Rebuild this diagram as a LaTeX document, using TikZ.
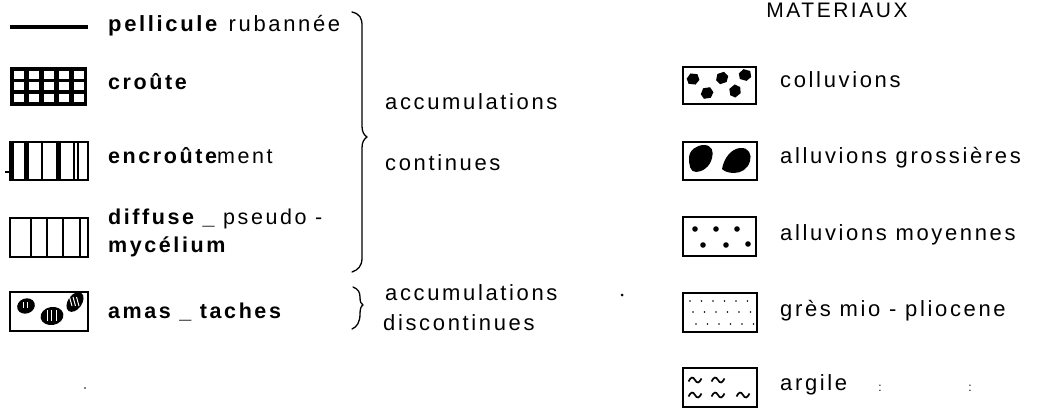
\documentclass[tikz,border=0pt]{standalone}
\usepackage{fontspec}
\setmainfont{Liberation Sans}
\newfontfamily\labfont[LetterSpace=12]{Liberation Sans}
\begin{document}
\begin{tikzpicture}[x=1pt,y=-1pt,
  lbl/.style={anchor=base west, inner sep=0pt, font=\labfont\fontsize{22}{26}\selectfont},
  blbl/.style={lbl, font=\labfont\bfseries\fontsize{21.5}{26}\selectfont},
  symbox/.style={draw, line width=1.3pt},
  brace/.style={line width=1.3pt, line cap=round, line join=round}]
\useasboundingbox (0,0) rectangle (1049,409);

% ---------- left column ----------
% pellicule
\draw[line width=4pt] (10,27) -- (88,27);
\node[lbl] (t1) at (108,32) {\textbf{pellicule} rubannée};

% croute
\fill (10,67) rectangle (87,106);
\foreach \i in {0,...,4}{
  \foreach \j in {0,...,2}{
    \fill[white] ({13.5+\i*15},{71+\j*11.5}) rectangle ({24+\i*15},{79+\j*11.5});
  }
}
\node[blbl] (t2) at (108,90) {croûte};

% encroutement
\draw[symbox] (10,142) rectangle (88,180);
\fill (10,142) rectangle (14,180);
\fill (24,142) rectangle (29,180);
\draw[line width=1.2pt] (42,142) -- (42,180);
\fill (56,142) rectangle (61,180);
\draw[line width=1.2pt] (74,142) -- (74,180);
\fill (77,142) rectangle (79,180);
\draw[line width=1.5pt] (5,172) -- (10,172);
\node[blbl] (t3) at (108,164) {encroûte\mdseries ment};

% diffuse
\draw[symbox] (10,218) rectangle (88,257);
\foreach \x in {31,47,63,80}{ \draw[line width=1.2pt] (\x,218) -- (\x,257); }
\node[blbl] (t4) at (108,224) {diffuse \_ \mdseries pseudo -};
\node[blbl] (t5) at (108,252) {mycélium};

% amas
\draw[symbox] (10,292) rectangle (88,331);
\fill[rotate around={20:(26,306)}] (26,306) ellipse (9 and 7.5);
\fill[rotate around={10:(52,316)}] (52,316) ellipse (11.5 and 9);
\fill[rotate around={55:(75,302)}] (75,302) ellipse (11 and 7);
\foreach \x in {23,27}{ \draw[white, line width=1pt] (\x,302) -- (\x,308); }
\foreach \x in {47,51.5,56}{ \draw[white, line width=1pt] (\x,310) -- (\x,321); }
\foreach \d in {-3.5,0,3.5}{ \draw[white, line width=1pt] ({73+\d},297) -- ({75.5+\d},306); }
\node[blbl] (t6) at (108,318) {amas \_ taches};

% big brace
\draw[brace] (352,12) .. controls (360,14) and (362,18) .. (362,26)
  -- (362,126) .. controls (362,132) and (364,135) .. (367,137)
  .. controls (364,139) and (362,142) .. (362,148)
  -- (362,258) .. controls (362,266) and (358,270) .. (352,272);
\node[lbl] (t7) at (385,110) {accumulations};
\node[lbl] (t8) at (385,170) {continues};

% small brace
\draw[brace] (353,287) .. controls (358,289) and (360,292) .. (360,297)
  .. controls (360,302) and (361,304) .. (363,305)
  .. controls (361,306) and (360,309) .. (360,314)
  .. controls (360,322) and (357,327) .. (352,329);
\node[lbl] (t9) at (385,300) {accumulations};
\node[lbl] (t10) at (383,330) {discontinues};

\fill (622,295) circle (1.5);
\fill (85,388) circle (0.8);

% ---------- right column ----------
\node[anchor=base, inner sep=0pt, font=\labfont\fontsize{21}{25}\selectfont] (title) at (837,18) {MATERIAUX};

% colluvions
\draw[symbox] (683,67) rectangle (756,104);
\foreach \x/\y/\r in {693/79/15, 722/78/40, 745/75/5, 707/93/30, 735/91/60}{
  \fill[rotate around={\r:(\x,\y)}] (\x-6,\y-2) -- (\x-1,\y-6) -- (\x+5.5,\y-3.5) -- (\x+6,\y+2.5) -- (\x+1,\y+6) -- (\x-5.5,\y+3.5) -- cycle;
}
\node[lbl] (r1) at (780,88) {colluvions};

% alluvions grossieres
\draw[symbox] (683,142) rectangle (757,180);
\fill (689,158) .. controls (689,150) and (697,145) .. (704,145)
  .. controls (712,145) and (714,152) .. (712,158)
  .. controls (710,167) and (702,172) .. (696,172)
  .. controls (690,172) and (689,165) .. (689,158) -- cycle;
\fill (722,169) .. controls (724,158) and (731,149) .. (740,148)
  .. controls (749,147) and (752,155) .. (750,161)
  .. controls (748,169) and (741,173) .. (734,173)
  .. controls (728,173) and (724,171) .. (722,169) -- cycle;
\node[lbl] (r2) at (780,164) {alluvions grossières};

% alluvions moyennes
\draw[symbox] (683,217) rectangle (756,256);
\foreach \x/\y in {695/229, 716/229, 737/229, 703/245, 726/245, 748/244}{
  \fill (\x,\y) circle (2.8);
}
\node[lbl] (r3) at (780,240) {alluvions moyennes};

% gres
\draw[symbox] (683,293) rectangle (757,332);
\foreach \j/\y in {0/301, 1/312, 2/324}{
  \foreach \i in {0,...,5}{
    \fill ({690+\i*11.5+\j*3},\y) circle (0.8);
  }
}
\node[lbl] (r4) at (780,316) {grès mio - pliocene};

% argile
\draw[symbox] (683,368) rectangle (757,407);
\foreach \x/\y in {695/380, 718/380, 695/395, 718/395, 743/395}{
  \draw[line width=1.7pt] (\x-6.5,\y+1.5) .. controls (\x-4,\y-3.5) and (\x-2,\y-3.5) .. (\x,\y)
    .. controls (\x+2,\y+3.5) and (\x+4,\y+3.5) .. (\x+6.5,\y-1.5);
}
\node[lbl] (r5) at (780,390) {argile};
\node[anchor=base, inner sep=0pt, font=\fontsize{12}{14}\selectfont] (c1) at (880,391) {:};
\node[anchor=base, inner sep=0pt, font=\fontsize{12}{14}\selectfont] (c2) at (970,391) {:};
\end{tikzpicture}
\end{document}
